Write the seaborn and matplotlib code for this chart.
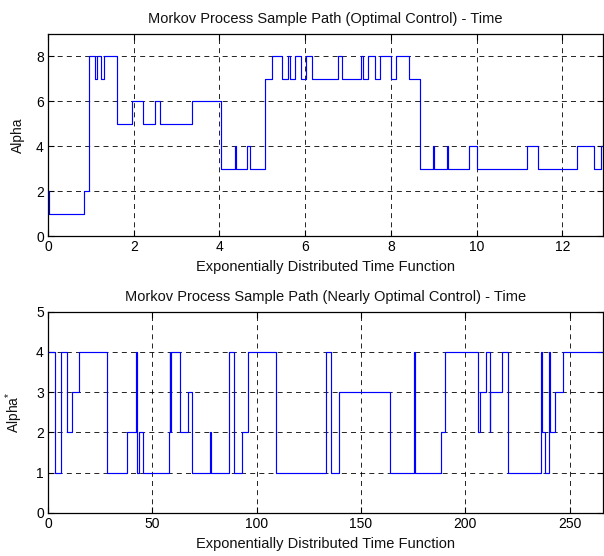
import matplotlib
matplotlib.use("Agg")
import matplotlib.pyplot as plt
import seaborn as sns
import pandas as pd

# ---- data ----
top_time = [0, 0.03, 0.85, 0.96, 1.10, 1.14, 1.24, 1.30, 1.60, 1.95, 2.22, 2.49, 2.61,
            3.35, 4.03, 4.36, 4.38, 4.64, 4.71, 5.06, 5.22, 5.47, 5.61, 5.65, 5.76, 5.90,
            6.02, 6.15, 6.77, 6.85, 7.30, 7.34, 7.47, 7.63, 7.75, 8.00, 8.12, 8.43, 8.68,
            8.99, 9.01, 9.30, 9.33, 9.82, 10.02, 11.18, 11.44, 12.34, 12.75, 12.90, 12.95]
top_alpha = [2, 1, 2, 8, 7, 8, 7, 8, 5, 6, 5, 6, 5,
             6, 3, 4, 3, 4, 3, 7, 8, 7, 8, 7, 8, 7,
             8, 7, 8, 7, 8, 7, 8, 7, 8, 7, 8, 7, 3,
             4, 3, 4, 3, 4, 3, 4, 3, 4, 3, 4, 4]

bot_time = [0, 3.35, 6.2, 8.9, 9.3, 11.3, 15.0, 28.1, 38.0, 42.0, 42.6, 43.4, 45.6,
            58.0, 58.4, 58.7, 59.0, 63.2, 67.2, 68.8, 77.6, 78.0, 86.8, 89.1, 93.1,
            96.0, 109.2, 133.1, 135.5, 139.4, 163.8, 175.3, 175.7, 188.5, 190.5,
            206.1, 207.2, 210.1, 211.7, 211.9, 217.6, 220.5, 236.1, 236.7, 238.0,
            240.0, 240.8, 243.2, 246.8, 266.0]
bot_alpha = [4, 1, 4, 3, 2, 3, 4, 1, 2, 4, 1, 2, 1,
             2, 4, 2, 4, 2, 3, 1, 2, 1, 4, 1, 2,
             4, 1, 4, 1, 3, 1, 4, 1, 2, 4,
             2, 3, 4, 2, 3, 4, 1, 4, 2, 1,
             4, 2, 3, 4, 4]

top_xticks = [0, 2, 4, 6, 8, 10, 12]
top_yticks = [0, 2, 4, 6, 8]
bot_xticks = [0, 50, 100, 150, 200, 250]
bot_yticks = [0, 1, 2, 3, 4, 5]

title_top = "Morkov Process Sample Path (Optimal Control) - Time"
title_bot = "Morkov Process Sample Path (Nearly Optimal Control) - Time"
xlabel = "Exponentially Distributed Time Function"

sns.set_theme(style="white")
plt.rcParams["font.family"] = ["Liberation Sans", "DejaVu Sans"]
plt.rcParams["mathtext.fontset"] = "custom"
plt.rcParams["mathtext.rm"] = "Liberation Sans"
plt.rcParams["mathtext.it"] = "Liberation Sans"

fig = plt.figure(figsize=(6.04, 5.56), dpi=100)
fig.patch.set_facecolor("white")
ax1 = fig.add_axes([48 / 604, 1 - 236 / 556, 555 / 604, 202 / 556])
ax2 = fig.add_axes([48 / 604, 1 - 513 / 556, 555 / 604, 201.3 / 556])

df_top = pd.DataFrame({"t": top_time, "a": top_alpha})
df_bot = pd.DataFrame({"t": bot_time, "a": bot_alpha})

for ax, df, xt, yt, xlim, ylim, title, ylab in [
    (ax1, df_top, top_xticks, top_yticks, (0, 12.95), (0, 9), title_top, "Alpha"),
    (ax2, df_bot, bot_xticks, bot_yticks, (0, 266), (0, 5), title_bot, "Alpha$^{*}$"),
]:
    sns.lineplot(data=df, x="t", y="a", ax=ax, estimator=None, sort=False,
                 drawstyle="steps-post", color="#0000ff", linewidth=0.85)
    ax.set_xlim(*xlim)
    ax.set_ylim(*ylim)
    ax.set_xticks(xt)
    ax.set_yticks(yt)
    ax.grid(True, color="black", linestyle=(0, (6, 5)), linewidth=0.6)
    ax.set_axisbelow(True)
    for s in ax.spines.values():
        s.set_visible(True)
        s.set_color("black")
        s.set_linewidth(0.9)
    ax.tick_params(direction="in", length=4, width=0.8, top=True, right=True,
                   bottom=True, left=True, labelsize=10, colors="black", pad=3)
    ax.set_title(title, fontsize=10.5, pad=8, color="#111111")
    ax.set_xlabel(xlabel, fontsize=10.5, labelpad=4, color="#111111")
    ax.set_ylabel(ylab, fontsize=10, labelpad=8, color="#111111")

fig.savefig("out.png", dpi=100, facecolor="white")
